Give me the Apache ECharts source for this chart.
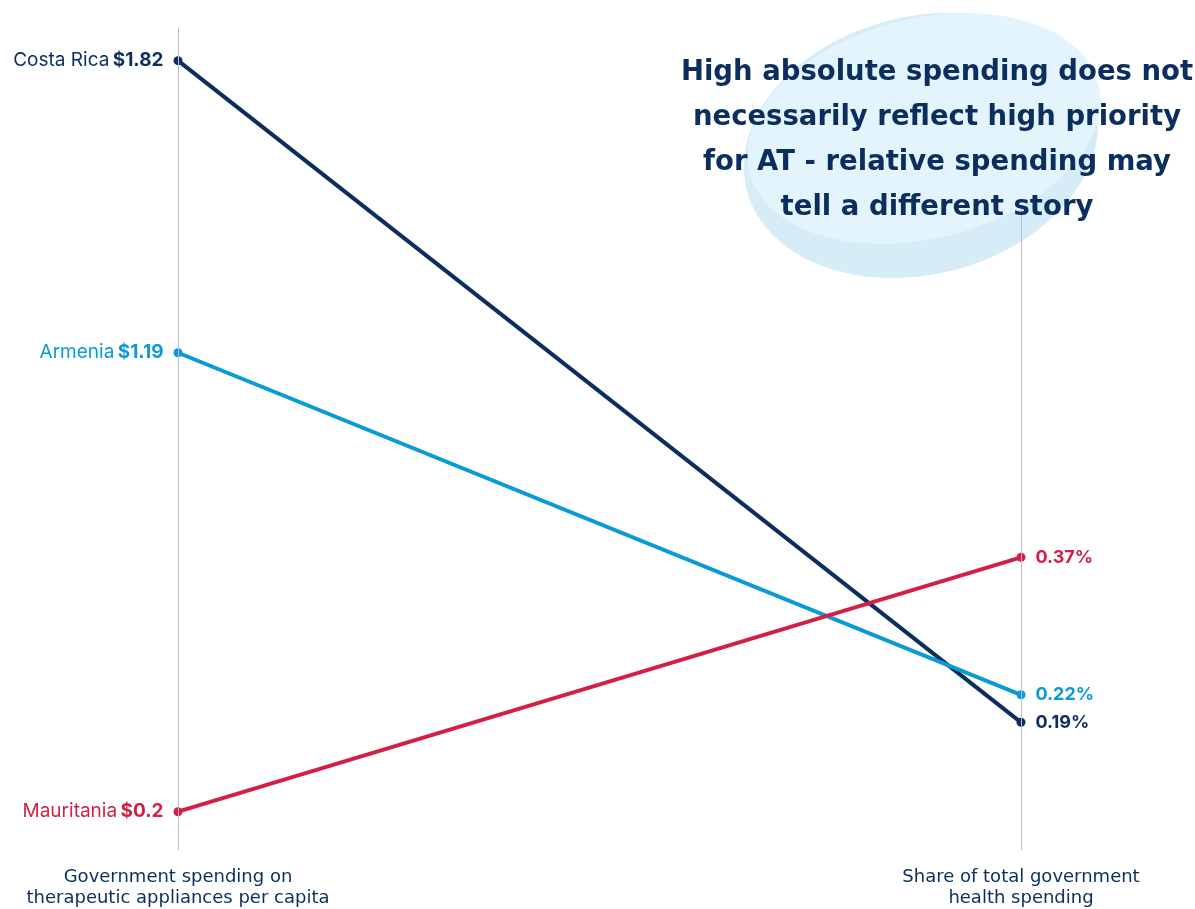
<!DOCTYPE html>
<html>
<head>
<meta charset="utf-8">
<script src="https://cdn.jsdelivr.net/npm/echarts@6/dist/echarts.min.js"></script>
<style>
html,body{margin:0;padding:0;background:#fff;}
#chart{width:1195px;height:909px;}
</style>
</head>
<body>
<div id="chart"></div>
<script>
// ---- data ----
const countries = ['Costa Rica', 'Armenia', 'Mauritania'];
const perCapita = [1.82, 1.19, 0.2];          // $ per capita
const shareHealth = [0.19, 0.22, 0.37];       // % of total government health spending
const colors = ['#0b2e5e', '#0a9bd6', '#d31f43'];
const axisNames = ['Government spending on\ntherapeutic appliances per capita', 'Share of total government\nhealth spending'];
const annotation = 'High absolute spending does not\nnecessarily reflect high priority\nfor AT - relative spending may\ntell a different story';

const leftRange = [0.1174, 1.8905];
const rightRange = [0.0507, 0.9474];

const FONT = 'Inter';
const WIDE = '"DejaVu Sans"';
const NAVY = '#0b2e5e';

const GRID = {left: 178, right: 174, top: 28, bottom: 59};

const chart = echarts.init(document.getElementById('chart'));

const parallelData = countries.map((c, i) => ({
  name: c,
  value: [perCapita[i], shareHealth[i]],
  lineStyle: {color: colors[i], width: 4, opacity: 1}
}));

const leftPts = countries.map((c, i) => ({
  value: [0, perCapita[i]],
  itemStyle: {color: colors[i], opacity: 1},
  label: {
    color: colors[i],
    formatter: '{n|' + c + '} {v|$' + perCapita[i] + '}'
  }
}));
const rightPts = countries.map((c, i) => ({
  value: [1, shareHealth[i]],
  itemStyle: {color: colors[i], opacity: 1},
  label: {color: colors[i], formatter: shareHealth[i] + '%'}
}));

const axisLineColor = '#b9c1cc';
const hiddenLabel = {show: false, formatter: () => '', color: 'rgba(0,0,0,0)'};

chart.setOption({
  animation: false,
  textStyle: {fontFamily: FONT},
  parallel: Object.assign({
    layout: 'horizontal',
    parallelAxisDefault: {
      axisLine: {lineStyle: {color: axisLineColor, width: 1}},
      axisTick: {show: false}, axisLabel: hiddenLabel, splitLine: {show: false}
    }
  }, GRID),
  parallelAxis: [
    {dim: 0, min: leftRange[0], max: leftRange[1],
     axisLine: {lineStyle: {color: axisLineColor, width: 1}},
     axisTick: {show: false}, axisLabel: hiddenLabel},
    {dim: 1, min: rightRange[0], max: rightRange[1],
     axisLine: {lineStyle: {color: axisLineColor, width: 1}},
     axisTick: {show: false}, axisLabel: hiddenLabel}
  ],
  grid: GRID,
  xAxis: {
    type: 'category', data: axisNames, boundaryGap: false,
    axisLine: {show: false}, axisTick: {show: false}, splitLine: {show: false},
    axisLabel: {color: NAVY, fontSize: 18, lineHeight: 21, margin: 17, fontFamily: WIDE}
  },
  yAxis: [
    {type: 'value', min: leftRange[0], max: leftRange[1], show: false},
    {type: 'value', min: rightRange[0], max: rightRange[1], show: false}
  ],
  series: [
    {
      type: 'parallel', silent: true, smooth: false,
      lineStyle: {width: 4, opacity: 1},
      inactiveOpacity: 1, activeOpacity: 1,
      data: parallelData, z: 2
    },
    {
      type: 'scatter', xAxisIndex: 0, yAxisIndex: 0, symbolSize: 9, silent: true, z: 5,
      label: {
        show: true, position: 'left', distance: 10, fontFamily: FONT,
        rich: {
          n: {fontSize: 19, fontFamily: FONT},
          v: {fontSize: 19, fontWeight: 'bold', fontFamily: FONT}
        }
      },
      data: leftPts
    },
    {
      type: 'scatter', xAxisIndex: 0, yAxisIndex: 1, symbolSize: 9, silent: true, z: 5,
      label: {show: true, position: 'right', distance: 10, fontSize: 18, fontWeight: 'bold', fontFamily: FONT},
      data: rightPts
    }
  ],
  graphic: [
    {type: 'circle', z: 10, x: 921, y: 145.5, scaleX: 1.395, scaleY: 1, rotation: 0.25,
     shape: {cx: 0, cy: 0, r: 129}, style: {fill: '#d6ecf6'}},
    {type: 'circle', z: 11, x: 924, y: 128.5, scaleX: 1.636, scaleY: 1, rotation: 0.25,
     shape: {cx: 0, cy: 0, r: 110}, style: {fill: '#e3f4fc'}},
    {type: 'text', z: 12, x: 937, y: 50,
     style: {text: annotation, fill: NAVY, font: 'bold 27.5px ' + WIDE, lineHeight: 45,
             textAlign: 'center', textVerticalAlign: 'top', verticalAlign: 'top'}}
  ]
});
</script>
</body>
</html>
